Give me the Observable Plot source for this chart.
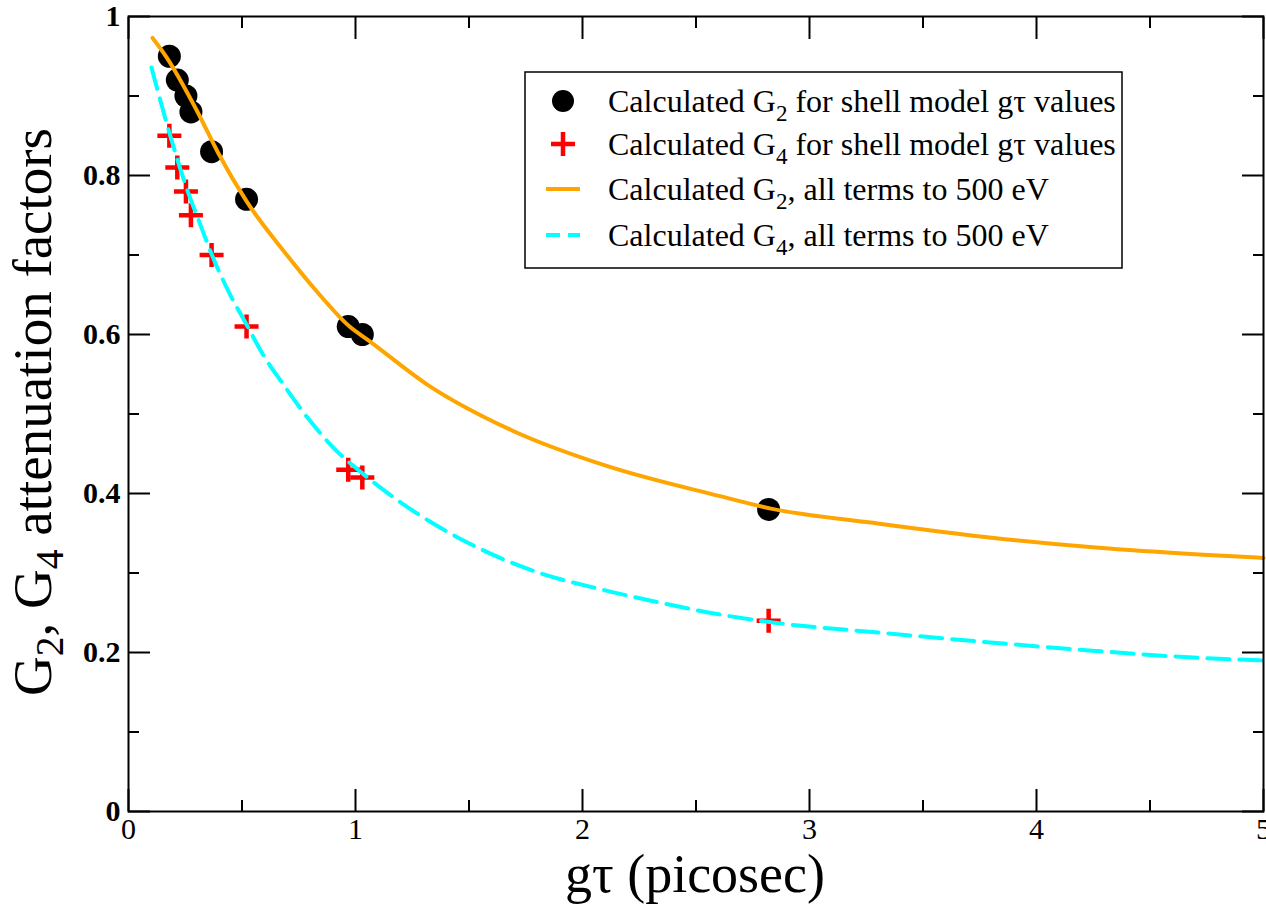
<!DOCTYPE html>
<html><head><meta charset="utf-8">
<script src="https://cdn.jsdelivr.net/npm/d3@7"></script>
<script src="https://cdn.jsdelivr.net/npm/@observablehq/plot@0.6"></script>
<style>body{margin:0;background:#fff;}</style>
</head><body><div id="chart"></div>
<script>
// Shell-model gτ values and calculated attenuation factors
const gTau = [0.18, 0.215, 0.253, 0.275, 0.366, 0.52, 0.968, 1.03, 2.82];
const g2Shell = [0.95, 0.92, 0.90, 0.88, 0.83, 0.77, 0.61, 0.60, 0.38];
const g4Shell = [0.85, 0.81, 0.78, 0.75, 0.70, 0.61, 0.43, 0.42, 0.24];

// Calculated curves, all terms to 500 eV
const g2CurveX = [0.106, 0.167, 0.306, 0.394, 0.519, 0.695, 0.827, 0.974, 1.06, 1.311, 1.692, 2.103, 2.601, 2.83, 3.307, 3.783, 4.26, 4.735, 5.0];
const g2CurveY = [0.973, 0.949, 0.879, 0.829, 0.768, 0.701, 0.655, 0.610, 0.592, 0.538, 0.479, 0.435, 0.397, 0.381, 0.362, 0.345, 0.332, 0.323, 0.319];
const g4CurveX = [0.101, 0.182, 0.255, 0.314, 0.372, 0.446, 0.519, 0.592, 0.680, 0.798, 0.915, 1.032, 1.208, 1.502, 1.780, 2.073, 2.337, 2.601, 2.83, 3.307, 3.783, 4.26, 4.735, 5.0];
const g4CurveY = [0.936, 0.852, 0.785, 0.740, 0.697, 0.651, 0.613, 0.575, 0.538, 0.492, 0.454, 0.425, 0.387, 0.337, 0.303, 0.280, 0.263, 0.248, 0.238, 0.225, 0.213, 0.202, 0.193, 0.190];

const xMajorTicks = [0, 1, 2, 3, 4, 5];
const xMinorTicks = [0.5, 1.5, 2.5, 3.5, 4.5];
const yMajorTicks = [0, 0.2, 0.4, 0.6, 0.8, 1];
const yMinorTicks = [0.1, 0.3, 0.5, 0.7, 0.9];
const xTickLabels = ["0", "1", "2", "3", "4", "5"];
const yTickLabels = ["0", "0.2", "0.4", "0.6", "0.8", "1"];

const xTitle = "gτ (picosec)";
const yTitle = [["G", 0], ["2", 1], [", G", 0], ["4", 1], [" attenuation factors", 0]];
const legendLabels = [
  [["Calculated G", 0], ["2", 1], [" for shell model gτ values", 0]],
  [["Calculated G", 0], ["4", 1], [" for shell model gτ values", 0]],
  [["Calculated G", 0], ["2", 1], [", all terms to 500 eV", 0]],
  [["Calculated G", 0], ["4", 1], [", all terms to 500 eV", 0]]
];

const shell = gTau.map((x, i) => ({x, g2: g2Shell[i], g4: g4Shell[i]}));
const g2Curve = g2CurveX.map((x, i) => ({x, y: g2CurveY[i]}));
const g4Curve = g4CurveX.map((x, i) => ({x, y: g4CurveY[i]}));

const crossSymbol = {
  draw(ctx, size) {
    const h = Math.sqrt(size / Math.PI);
    ctx.moveTo(-h, 0); ctx.lineTo(h, 0);
    ctx.moveTo(0, -h); ctx.lineTo(0, h);
  }
};

const ORANGE = "#FFA500", CYAN = "#00FFFF", RED = "#FF0000";
const FONT = "'Liberation Serif', 'Times New Roman', serif";
const blank = () => "";

const chart = Plot.plot({
  width: 1266, height: 906,
  marginLeft: 128, marginRight: 3, marginTop: 16, marginBottom: 95,
  style: {fontFamily: FONT, fontSize: "29px", background: "white", color: "black"},
  x: {domain: [0, 5]},
  y: {domain: [0, 1]},
  marks: [
    // inward ticks on all four sides
    Plot.axisX(xMajorTicks, {anchor: "bottom", tickSize: -22, strokeWidth: 2, tickFormat: blank, label: null}),
    Plot.axisX(xMajorTicks, {anchor: "top", tickSize: -22, strokeWidth: 2, tickFormat: blank, label: null}),
    Plot.axisX(xMinorTicks, {anchor: "bottom", tickSize: -11, strokeWidth: 2, tickFormat: blank, label: null}),
    Plot.axisX(xMinorTicks, {anchor: "top", tickSize: -11, strokeWidth: 2, tickFormat: blank, label: null}),
    Plot.axisY(yMajorTicks, {anchor: "left", tickSize: -22, strokeWidth: 2, tickFormat: blank, label: null}),
    Plot.axisY(yMajorTicks, {anchor: "right", tickSize: -22, strokeWidth: 2, tickFormat: blank, label: null}),
    Plot.axisY(yMinorTicks, {anchor: "left", tickSize: -11, strokeWidth: 2, tickFormat: blank, label: null}),
    Plot.axisY(yMinorTicks, {anchor: "right", tickSize: -11, strokeWidth: 2, tickFormat: blank, label: null}),
    // tick labels
    Plot.axisX(xMajorTicks, {anchor: "bottom", tickSize: 0, tickPadding: 6, fontSize: 30, label: null,
      tickFormat: (d) => xTickLabels[xMajorTicks.indexOf(d)]}),
    Plot.axisY(yMajorTicks, {anchor: "left", tickSize: 0, tickPadding: 8, fontSize: 30, fontWeight: "bold", label: null,
      tickFormat: (d) => yTickLabels[yMajorTicks.indexOf(d)]}),
    // data
    Plot.dot(shell, {x: "x", y: "g2", r: 11.5, fill: "black", stroke: "none"}),
    Plot.dot(shell, {x: "x", y: "g4", r: 12, symbol: crossSymbol, stroke: RED, strokeWidth: 4.5, fill: "none"}),
    Plot.line(g2Curve, {x: "x", y: "y", stroke: ORANGE, strokeWidth: 4, curve: "monotone-x"}),
    Plot.line(g4Curve, {x: "x", y: "y", stroke: CYAN, strokeWidth: 4, strokeDasharray: "22,10", curve: "monotone-x"}),
    Plot.frame({stroke: "black", strokeWidth: 2})
  ]
});

const svg = d3.select(chart);

function addRich(sel, parts, size, subShift) {
  parts.forEach(([t, sub], i) => {
    const ts = sel.append("tspan").text(t);
    if (sub) { ts.attr("font-size", size * 0.72).attr("dy", subShift); }
    else if (i > 0 && parts[i - 1][1]) { ts.attr("dy", -subShift); }
  });
}

// axis titles
svg.append("text").attr("x", 695).attr("y", 892).attr("text-anchor", "middle")
  .attr("font-size", 54).attr("font-family", FONT).attr("fill", "black").text(xTitle);
const yt = svg.append("text").attr("transform", "translate(51,412) rotate(-90)").attr("text-anchor", "middle")
  .attr("font-size", 55).attr("font-family", FONT).attr("fill", "black");
addRich(yt, yTitle, 55, 12);

// legend
const lg = svg.append("g").attr("font-family", FONT).attr("font-size", 32).attr("text-anchor", "start");
lg.append("rect").attr("x", 525).attr("y", 72).attr("width", 597).attr("height", 196)
  .attr("fill", "white").attr("stroke", "black").attr("stroke-width", 1.5);
const rowY = [101, 144, 189, 235];
lg.append("circle").attr("cx", 563).attr("cy", rowY[0]).attr("r", 11).attr("fill", "black");
lg.append("path").attr("d", `M551,${rowY[1]}H575M563,${rowY[1] - 12}V${rowY[1] + 12}`).attr("stroke", RED).attr("stroke-width", 4.5);
lg.append("line").attr("x1", 546).attr("x2", 580).attr("y1", rowY[2]).attr("y2", rowY[2]).attr("stroke", ORANGE).attr("stroke-width", 4);
lg.append("line").attr("x1", 546).attr("x2", 580).attr("y1", rowY[3]).attr("y2", rowY[3]).attr("stroke", CYAN).attr("stroke-width", 4).attr("stroke-dasharray", "14,8");
legendLabels.forEach((parts, i) => {
  const t = lg.append("text").attr("x", 608).attr("y", rowY[i] + 11).attr("fill", "black").attr("text-anchor", "start");
  addRich(t, parts, 32, 9);
});

document.getElementById("chart").appendChild(chart);
</script>
</body></html>
